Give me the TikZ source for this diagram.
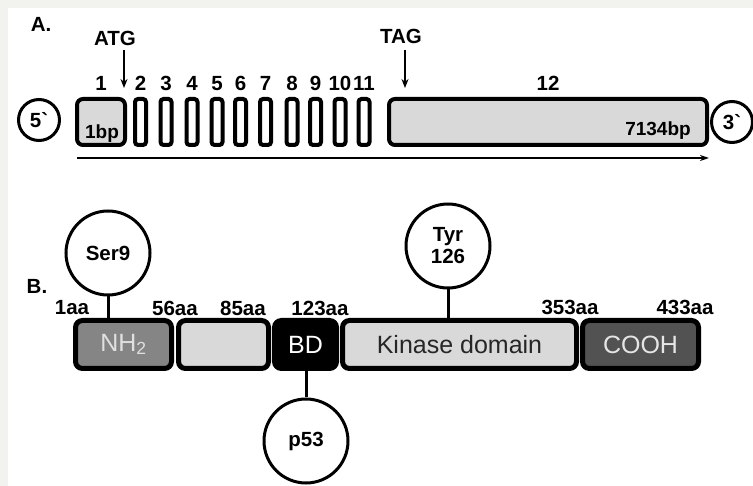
\documentclass[tikz,border=0pt]{standalone}
\usepackage{fontspec}
\setmainfont{Liberation Sans}
\usetikzlibrary{arrows.meta,positioning}
\definecolor{pagebg}{HTML}{F2F3EE}
\definecolor{exgray}{HTML}{D9D9D9}
\definecolor{nhgray}{HTML}{858585}
\definecolor{cogray}{HTML}{525252}

\begin{document}
\begin{tikzpicture}[
            x=1pt, y=-1pt,
            font=\fontsize{20.5}{22}\selectfont\bfseries,
            exon/.style={draw, line width=4pt, rounded corners=3pt, inner sep=0pt, minimum width=11pt, minimum height=46pt, fill=white},
            endcap/.style={draw, circle, line width=3pt, inner sep=0pt, minimum size=41pt},
            site/.style={draw, circle, line width=3pt, inner sep=0pt, align=center, fill=white, minimum size=84pt},
            dom/.style={draw, line width=5pt, rounded corners=7pt, inner sep=0pt, minimum height=48pt, font=\fontsize{25}{27}\selectfont},
            size/.style={font=\fontsize{19}{20}\selectfont\bfseries},
            stem/.style={line width=3pt},
            pointer/.style={-{Stealth[length=9pt, width=7pt]}, line width=1.6pt}
        ]
            % page
            \fill[pagebg] (0,0) rectangle (753,486);
            \fill[white] (8,8) rectangle (753,486);
            \useasboundingbox (0,0) rectangle (753,486);

            % A. gene
            \node (labA) at (41,24) {A.};
            \node[endcap] (five) at (39,120) {5\textasciigrave};
            \node[endcap] (three) at (732,122) {3\textasciigrave};
            \node[exon, fill=exgray, rounded corners=6pt, minimum width=48pt] (ex1) at (101,122) {};
            \node[size] at (102,134) {1bp};
            \foreach \n/\xx in {2/140.5, 3/166, 4/192, 5/217, 6/240.5, 7/265.5, 8/292, 9/315.5, 10/340, 11/364}
            {
                \node[exon] (ex\n) at (\xx,122) {};
                \node[above=3pt of ex\n] {\n};
            }
            \node[exon, fill=exgray, rounded corners=6pt, minimum width=318pt] (ex12) at (548,122) {};
            \node[size] at (658,131) {7134bp};
            \node[above=3pt of ex1] {1};
            \node[above=3pt of ex12] {12};

            \node (atg) at (115,38) {ATG};
            \node (tag) at (401,36) {TAG};
            \coordinate (atgtip) at (124,88);
            \coordinate (tagtip) at (405,88);
            \draw[pointer] (124,50) -- (atgtip);
            \draw[pointer] (405,50) -- (tagtip);

            \coordinate (tx0) at (77,158);
            \coordinate (tx1) at (709,158);
            \draw[-{Stealth[length=9pt, width=6pt]}, line width=1.6pt] (tx0) -- (tx1);

            % B. protein
            \node (labB) at (37,286) {B.};
            \node[dom, fill=nhgray, text=white!88!black, minimum width=96pt] (nh) at (123.5,344.5) {NH\textsubscript{2}};
            \node[dom, fill=exgray, minimum width=90pt] (mid) at (223.5,344.5) {};
            \node[dom, fill=black, text=white, minimum width=62pt] (bd) at (305.5,344.5) {BD};
            \node[dom, fill=exgray, text=black!85, minimum width=234pt] (kin) at (459.5,344.5) {Kinase domain};
            \node[dom, fill=cogray, text=white!90!black, minimum width=116pt] (cooh) at (640.5,344.5) {COOH};

            \node[site] (ser) at (108,253) {Ser9};
            \node[site] (tyr) at (448,246) {Tyr\\126};
            \node[site] (p) at (306,441) {p53};
            \draw[stem] (ser.south) -- (ser.south |- nh.north);
            \draw[stem] (tyr.south) -- (tyr.south |- kin.north);
            \draw[stem] (bd.south -| p.north) -- (p.north);

            \node at (72,308) {1aa};
            \node at (175,308) {56aa};
            \node at (243,308) {85aa};
            \node at (320,308) {123aa};
            \node at (570,307) {353aa};
            \node at (685,307) {433aa};
        \end{tikzpicture}
\end{document}
